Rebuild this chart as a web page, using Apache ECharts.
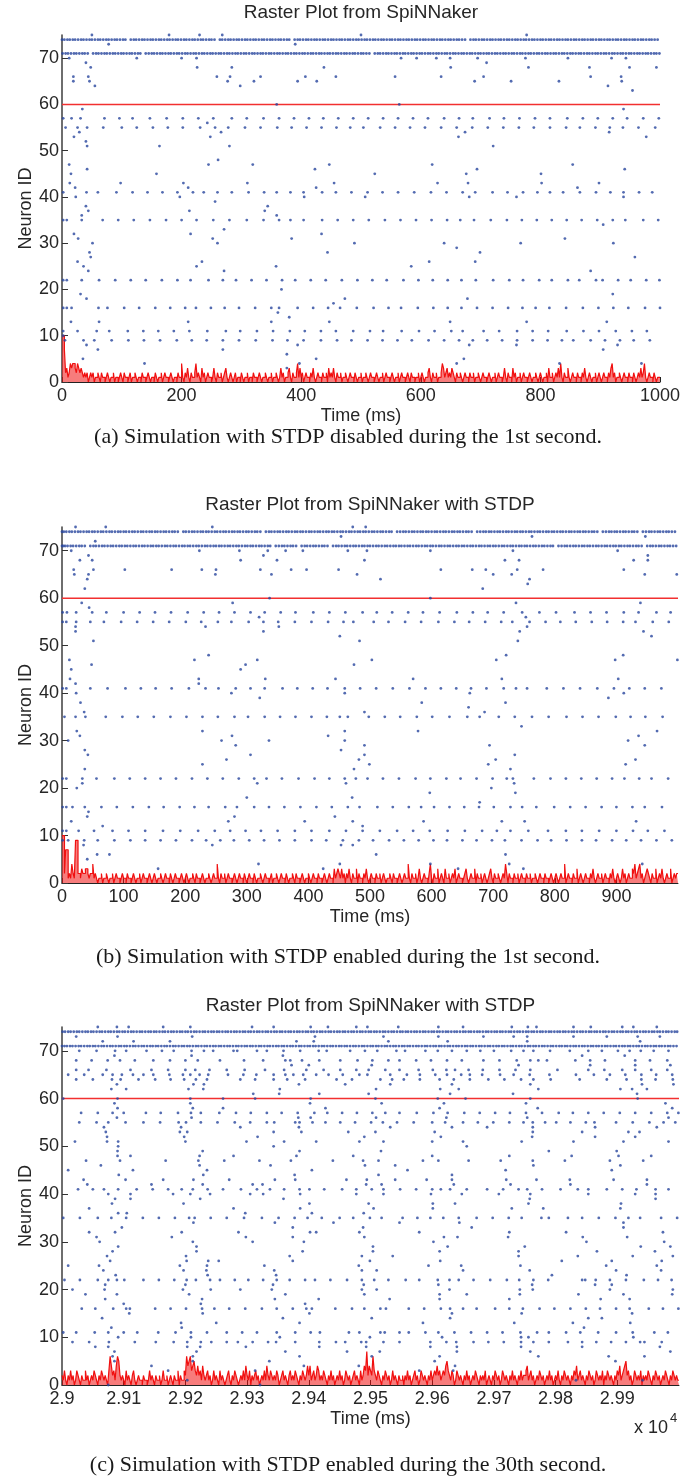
<!DOCTYPE html>
<html><head><meta charset="utf-8">
<script src="https://cdn.jsdelivr.net/npm/echarts@6/dist/echarts.min.js"></script>
<style>html,body{margin:0;padding:0;background:#fff}#chart{width:697px;height:1476px}</style>
</head><body><div id="chart"></div>
<script>
// ---------------- DATA ----------------
const titles = ['Raster Plot from SpiNNaker', 'Raster Plot from SpiNNaker with STDP', 'Raster Plot from SpiNNaker with STDP'];
const captions = ['(a) Simulation with STDP disabled during the 1st second.', '(b) Simulation with STDP enabled during the 1st second.', '(c) Simulation with STDP enabled during the 30th second.'];
const xName = 'Time (ms)';
const yName = 'Neuron ID';
const yTicks = [0, 10, 20, 30, 40, 50, 60, 70];
const aXTicks = [0, 200, 400, 600, 800, 1000];
const bXTicks = [0, 100, 200, 300, 400, 500, 600, 700, 800, 900];
const cXTicks = [29000, 29100, 29200, 29300, 29400, 29500, 29600, 29700, 29800, 29900];
const threshold = 60;
const histBin = 2; // ms per bin of the population count
const cStart = 29000; // panel (c) times are listed relative to this

// dense spike trains (neurons 74 and 71)
const a74 = [0,4,9,13,18,22,27,32,36,41,46,50,55,60,64,69,74,78,83,88,92,97,102,106,115,120,124,129,134,138,143,148,152,157,162,166,171,176,180,185,190,194,199,204,208,213,218,222,227,232,236,241,246,250,255,264,268,273,278,282,287,292,296,301,306,310,315,320,324,329,334,338,343,348,352,357,362,366,371,376,380,389,394,398,403,408,412,417,422,426,431,436,440,445,450,454,459,464,468,473,478,482,487,492,496,501,506,510,515,520,524,529,534,538,543,548,552,557,562,566,571,576,580,585,590,594,599,604,608,613,618,622,627,632,636,641,646,650,655,660,664,669,674,683,688,692,697,702,706,711,716,720,725,730,734,739,744,748,753,758,762,767,772,776,781,786,790,795,800,804,809,814,818,823,828,832,837,842,846,851,856,860,865,870,874,879,884,888,893,898,902,907,912,916,921,926,930,935,940,944,949,954,958,963,968,972,977,982,986,991,996];
const a71 = [1,6,10,15,20,24,29,34,38,43,52,57,61,66,71,75,80,85,89,94,99,103,108,113,117,122,127,131,140,145,150,154,159,164,168,173,178,182,187,192,196,201,206,210,215,220,224,229,234,238,243,248,252,257,262,266,271,276,280,285,290,294,299,304,308,313,318,322,327,332,336,341,346,350,355,360,364,369,374,378,383,388,392,397,402,406,411,416,420,425,430,434,439,444,448,453,458,462,467,472,476,481,486,490,495,500,504,509,514,523,528,532,537,542,546,551,556,560,565,570,574,579,584,588,593,598,602,607,612,616,621,626,630,635,640,644,649,654,658,663,668,672,677,682,686,691,696,700,705,710,714,719,724,728,733,738,742,747,752,756,761,766,770,775,780,784,789,794,798,803,808,812,817,822,826,831,836,840,845,850,854,859,864,868,873,878,882,887,892,896,901,906,910,915,920,924,929,934,938,943,948,952,957,962,966,971,976,980,985,990,994,999];
const b74 = [0,3,7,12,16,21,26,30,35,40,44,49,53,58,63,67,72,77,81,86,91,95,100,104,109,114,118,123,128,132,137,142,146,151,155,160,165,169,174,179,183,188,197,201,206,211,215,220,225,229,234,238,243,248,252,257,262,266,271,276,280,285,289,294,299,303,308,313,317,322,331,336,340,345,350,354,359,364,368,373,378,382,387,391,396,401,405,410,415,419,424,429,433,438,442,447,452,456,461,466,470,475,480,484,489,493,498,503,507,512,517,521,526,531,535,544,549,554,558,563,568,572,577,582,586,591,595,600,605,609,614,619,623,628,633,637,642,646,651,656,660,665,674,679,684,688,693,697,702,707,711,716,721,725,730,735,739,744,748,753,758,762,767,772,776,781,786,790,795,799,804,809,813,818,823,827,832,837,841,846,850,855,860,864,869,878,883,888,892,897,901,906,911,915,920,925,929,934,943,948,953,957,962,967,971,976,981,985,990,995];
const b71 = [0,2,5,9,14,18,23,28,32,37,46,51,55,60,65,69,74,79,83,88,93,97,102,106,111,116,120,125,130,134,139,144,148,153,157,162,167,171,176,181,185,190,195,199,204,208,213,218,222,227,232,236,241,246,250,255,259,264,269,273,278,283,287,292,297,301,306,310,315,320,324,329,334,338,347,352,357,361,366,371,375,380,389,394,398,403,408,412,417,422,426,431,440,445,449,454,459,463,468,473,477,482,487,491,496,500,505,510,514,519,524,528,533,538,542,547,551,556,561,565,570,575,579,584,589,593,598,602,607,612,616,621,626,630,635,640,644,649,653,658,663,667,672,677,681,686,691,695,700,704,709,714,718,723,728,732,737,742,746,751,755,760,765,769,774,779,783,788,793,797,806,811,816,820,825,830,834,839,844,848,853,857,862,867,871,876,881,885,890,895,899,904,908,913,918,922,927,932,936,941,950,955,959,964,969,973,978,983,987,992,997];
const c74 = [1,5,10,14,19,24,28,33,38,42,47,51,56,61,65,70,75,79,84,89,93,98,102,107,112,116,121,126,130,135,140,144,149,153,158,163,167,172,177,181,186,191,195,200,204,209,214,218,223,228,232,237,242,246,251,255,260,265,269,274,279,283,288,293,297,302,306,311,316,320,325,330,334,339,344,348,353,357,362,367,371,376,381,385,390,395,399,404,408,413,418,422,427,432,436,441,446,450,455,459,464,469,473,478,483,487,492,497,501,506,510,515,520,524,529,534,538,543,548,552,557,561,566,571,575,580,585,589,594,599,603,608,612,617,622,626,631,636,640,645,650,654,659,663,668,673,677,682,687,691,696,701,705,710,714,719,724,728,733,738,742,747,752,756,761,765,770,775,779,784,789,793,798,803,807,812,816,821,826,830,835,840,844,849,854,858,863,867,872,877,881,886,891,895,900,905,909,914,918,923,928,932,937,942,946,951,956,960,965,969,974,979,983,988,993,997];
const c71 = [0,4,8,13,17,22,27,31,36,41,45,50,54,59,64,68,73,78,82,87,92,96,101,105,110,115,119,124,129,133,138,143,147,152,156,161,166,170,175,180,184,189,194,198,203,207,212,217,221,226,231,235,240,245,249,254,258,263,268,272,277,282,286,291,296,300,305,309,314,319,323,328,333,337,342,347,351,356,360,365,370,374,379,384,388,393,398,402,407,411,416,421,425,430,435,439,444,449,453,458,462,467,472,476,481,486,490,495,500,504,509,513,518,523,527,532,537,541,546,551,555,560,564,569,574,578,583,588,592,597,602,606,611,615,620,625,629,634,639,643,648,653,657,662,666,671,676,680,685,690,694,699,704,708,713,717,722,727,731,736,741,745,750,755,759,764,768,773,778,782,787,792,796,801,806,810,815,819,824,829,833,838,843,847,852,857,861,866,870,875,880,884,889,894,898,903,908,912,917,921,926,931,935,940,945,949,954,959,963,968,972,977,982,986,991,996];

// panel (a): [neuron id, spike times (ms)]
const aRows = [
[75,[50,179,230,268,500,777]],[74,a74],[73,[78,390]],[71,a71],
[70,[12,125,200,225,567,593,626,649,695,775,846,919,943]],[69,[40,710]],
[68,[48,226,284,438,650,780,882,949,994]],
[66,[19,44,259,281,332,407,458,557,634,705,884,935]],
[65,[19,46,277,321,394,426,690,751,831,936]],[64,[55,298,913]],[63,[954]],
[60,[359,564]],[59,[34,939]],
[57,[2,16,31,71,96,118,147,175,202,228,253,284,309,337,363,388,413,437,462,487,512,537,562,587,612,639,664,687,715,739,765,791,816,845,871,896,921,945,972,998]],
[56,[243]],
[55,[6,26,42,69,100,125,152,177,202,231,256,278,306,332,360,384,409,434,459,482,504,532,557,582,607,634,660,686,712,738,764,789,816,843,866,892,916,938,964,992]],
[54,[29,266,674,915]],[53,[20,248,663,977]],[52,[40]],[51,[42,163,280,721]],[48,[261]],
[47,[12,245,319,447,619,854]],[46,[42,423,694,941]],[45,[15,158,523,676,801]],
[43,[13,98,203,310,455,628,679,802,898]],[42,[22,211,425,862]],
[41,[2,41,60,91,118,143,168,193,219,237,260,284,312,338,359,382,404,435,458,484,511,536,562,589,617,643,670,691,720,745,771,795,816,838,866,893,917,939,965,987]],
[40,[23,197,405,507,681,760,939]],[39,[256]],[38,[40,344]],[37,[44,213,339]],[36,[33,359]],
[35,[2,8,33,68,94,120,147,174,200,225,253,280,309,337,363,382,404,435,461,487,513,540,566,592,618,644,666,689,717,744,769,794,819,844,869,895,921,942,972,997]],
[34,[905]],[33,[271]],[32,[20,215,434]],[31,[27,252,384,841]],[30,[51,260,489,639,767,922]],
[29,[660]],[28,[46,444,699]],[27,[48,958]],[26,[26,234,614,691]],[25,[36,225,358,584]],[24,[44,271,884]],
[22,[2,8,33,62,89,115,140,167,193,215,245,269,291,317,342,368,390,416,441,468,494,519,543,571,596,620,645,668,692,721,748,771,798,819,846,865,893,904,930,951,977,999]],
[20,[367]],[19,[31,921]],[18,[41,473,678]],[17,[454]],
[16,[2,8,16,61,76,104,129,156,181,206,224,249,272,296,323,350,363,394,420,445,465,493,521,546,567,595,621,645,668,694,720,746,770,792,815,843,871,897,922,947,975,1000]],
[15,[361]],[14,[380]],[13,[15,62,211,350,447,649,777,911]],
[11,[2,26,58,79,110,136,161,187,213,243,274,298,326,353,381,406,433,458,487,515,537,568,597,623,651,670,705,731,761,787,813,844,872,898,926,953,978]],
[10,[2]],
[9,[5,36,54,83,111,137,164,192,217,242,269,296,324,352,377,404,433,460,484,511,536,561,585,613,639,664,687,711,736,761,787,812,836,855,884,908,933,956,983]],
[8,[41,394,681,760,929]],[7,[60,269,905]],[6,[376]],[5,[35,425,672]],[4,[138,397,660,832,969]],[3,[376]]
];

// panel (b)
const bRows = [
[75,[22,71,244,472,493]],[74,b74],[73,[453,763,947]],[72,[54]],[71,b71],
[70,[15,223,288,334,363,391,464,495,598,732,902]],[69,[43,327,951]],
[68,[29,49,290,349,491,719,742,928,951]],
[66,[19,51,102,178,227,250,322,372,397,449,615,666,688,739,781,912]],
[65,[20,43,249,340,479,700,730,946,998]],[64,[41,517,759]],[63,[756]],[62,[37,683]],
[60,[337,598]],[59,[32,277,737,939]],[58,[44]],
[57,[1,8,23,49,72,100,126,151,177,204,230,255,280,306,329,355,379,408,434,460,488,511,536,562,586,613,641,667,691,717,747,775,802,832,858,884,912,936,965,988]],
[56,[320,753]],
[55,[1,7,23,46,68,96,122,148,174,201,226,253,275,303,327,351,378,405,432,457,473,506,530,557,583,611,637,661,687,713,731,759,785,809,834,860,885,911,931,959,985]],
[54,[22,233,352,755]],[53,[22,327,743,944]],[52,[451,957]],[51,[51,483,740]],
[48,[238,721,911]],[47,[12,215,317,503,705,898,999]],[46,[48,298,474]],[45,[15,290]],
[43,[13,222,330,444,570,714,903]],[42,[22,222]],
[41,[1,7,46,74,103,128,152,178,206,233,254,282,306,329,358,382,407,431,459,484,510,537,564,590,615,640,664,689,717,737,755,787,814,841,869,896,921,946,973]],
[40,[23,275,459,662,912]],[39,[321,887]],[38,[30,584,720]],[37,[660]],[36,[36,491,686]],
[35,[4,22,38,71,98,123,149,176,202,228,253,280,302,329,354,379,405,430,451,464,498,524,549,576,601,629,658,678,709,735,763,790,819,845,871,899,923,947,975]],
[33,[746]],[32,[24,228,459,578,966]],[31,[29,276,432,936]],[30,[10,259,336,459,919]],
[29,[282,491,694,946]],[28,[37,453]],[27,[42,306,491,735]],[26,[267,482,704,931]],
[25,[228,499,692,915]],[24,[37,474,728]],
[22,[1,7,33,56,85,110,135,160,185,211,236,261,287,312,332,357,384,410,434,459,477,496,521,547,574,598,624,647,673,699,722,732,766,793,818,843,868,893,913,937,957,984]],
[21,[33,317,461,734]],[20,[24,697]],[19,[597,736]],[18,[300,471]],[17,[678]],
[16,[1,7,17,37,64,89,115,141,165,191,215,238,265,284,312,336,361,387,413,438,464,483,512,537,563,583,604,629,653,677,701,728,747,770,799,825,850,876,900,926,946,974]],
[15,[43]],[14,[41,280,443]],[13,[15,270,394,472,587,714,751,932]],[12,[66,488]],
[11,[1,7,27,52,82,108,135,164,192,221,248,273,298,323,350,378,405,434,461,488,516,544,570,597,626,654,682,706,728,757,789,818,844,872,900,927,951,978]],
[9,[1,10,36,58,85,111,135,160,185,211,234,257,279,304,328,353,378,405,429,456,482,505,531,555,579,603,625,650,673,698,719,746,772,794,819,844,867,893,916,940,965,990]],
[8,[35,244,453,472]],[6,[57,77,510,720]],[5,[41]],[4,[319,451,598,726,942]],[3,[156,424,643,749]]
];

// panel (c): times relative to cStart
const cRows = [
[75,[58,89,108,164,208,308,343,403,431,477,495,545,610,650,729,755,769,829,857,908,926,964]],
[74,c74],
[73,[23,90,211,410,521,610,683,732,754,829,883,933,969]],
[72,[66,116,175,380,408,529,625,754,937]],
[71,c71],
[70,[28,56,86,104,137,162,181,210,230,245,278,284,316,332,359,386,416,429,467,491,511,542,556,589,609,632,656,678,700,728,748,764,791,823,853,875,901,920,938,959,983]],
[69,[85,210,358,843,912]],
[68,[23,48,74,94,118,148,175,200,220,256,295,326,362,370,389,417,451,479,503,529,547,574,598,624,648,683,709,737,759,772,786,832,856,880,929,953,981]],
[67,[372,400,502,740,856,929,986]],
[66,[23,43,72,111,145,172,200,216,239,267,296,329,360,396,424,451,477,497,524,547,578,601,623,637,659,682,709,735,759,803,853,879,908,929,955,981]],
[65,[10,36,66,82,97,115,132,148,174,196,208,223,237,269,294,315,343,362,375,391,412,432,455,482,495,532,559,580,605,624,647,661,681,710,732,758,790,833,862,888,913,939,963,989]],
[64,[23,50,81,95,124,151,176,198,217,235,289,313,343,365,394,445,470,516,535,554,580,612,635,661,691,717,744,764,792,839,883,915,939,962,990]],
[63,[89,213,230,384,459,532,632,759,940,991]],
[62,[80,104,205,229,353,509,613,643,772,905,924,948]],
[61,[310,352,417,497,629,731,932]],
[60,[2,90,208,261,313,403,508,609,654,759,933]],
[59,[85,208,402,518,619,752,978]],
[58,[90,212,261,427,612,771,989]],
[57,[31,58,82,100,136,160,188,209,225,255,282,306,332,356,382,409,430,454,478,503,524,547,575,602,625,652,677,702,726,752,778,805,828,853,878,904,929,955,981,999]],
[56,[89,210,383,403,509,623,754,983]],
[55,[28,56,75,103,132,159,189,201,225,252,280,305,332,344,378,385,406,427,451,475,501,520,543,570,600,621,650,674,699,725,748,763,783,801,824,849,863,898,925,952,975,994]],
[54,[68,193,289,384,532,632,689,763,864,964]],
[53,[71,191,203,343,388,464,508,604,763,843,918,936]],
[52,[73,198,317,490,614,762,864,929]],
[51,[21,73,91,200,299,360,412,482,521,600,650,745,829,910,983]],
[50,[91,343,656]],
[49,[90,228,385,517,789,899]],
[48,[90,111,223,278,380,472,600,725,826,902,955]],
[47,[39,94,168,221,263,320,371,439,488,513,585,610,659,711,763,815,888,942]],
[46,[63,223,338,491,540,764,905]],
[45,[10,115,235,405,560,719,891]],
[44,[92,229,377,513,632]],
[43,[35,103,164,213,271,345,378,461,494,540,591,632,720,769,823,894,948]],
[42,[41,145,228,309,325,493,518,635,727,824,948]],
[41,[26,50,68,91,121,147,172,194,212,236,261,290,316,337,360,385,401,425,454,477,502,521,548,574,600,614,629,656,689,715,740,754,778,808,836,853,883,908,931,962,983]],
[40,[75,111,180,208,240,305,326,386,477,521,598,648,708,759,853,929,962]],
[39,[86,111,224,359,758,962]],
[38,[81,197,401,497,601,637,756,906]],
[37,[44,278,386,505,601,729,780,905]],
[36,[91,105,297,405,489]],
[35,[2,29,58,80,104,131,157,183,206,215,241,267,295,324,351,377,398,421,450,472,499,518,552,576,597,618,643,672,698,724,745,777,789,820,843,870,897,918,937,971,997]],
[34,[213,345,440,547,644,910]],
[33,[97,374,488,664,910]],
[32,[44,86,194,286,402,412,482,579,725,817,974]],
[31,[56,178,298,374,490,619,641,723,844,916]],
[30,[61,212,309,392,602,850,976]],
[29,[91,218,504,625,750,938,986]],
[28,[82,218,390,504,612,740,867,961]],
[27,[73,201,369,486,536,740,836,925,990]],
[26,[78,202,237,254,374,499,613,810,891,972]],
[25,[10,60,191,235,328,481,594,647,743,882,964]],
[24,[67,197,234,344,486,510,650,758,898,971]],
[23,[87,236,347,794,915]],
[22,[4,29,58,75,89,101,132,157,182,202,217,240,256,280,302,326,348,369,394,410,435,462,486,506,529,557,579,609,628,643,667,694,721,741,764,788,843,848,865,888,914,943,966,988]],
[21,[70,200,342,489,610,762,864,891]],
[20,[17,69,196,241,289,340,486,510,628,742,763,888,990]],
[19,[38,89,206,362,490,612,656,742,837,910,989]],
[18,[70,227,345,416,531,612,725,873,920]],
[17,[100,225,394]],
[16,[32,54,83,104,110,151,176,201,227,247,271,297,324,348,374,396,405,443,470,490,516,525,562,587,614,629,650,672,702,725,747,774,798,824,849,872,898,920,951,974,999]],
[15,[109,228,401,632,745,924]],
[14,[65,358,502,629,853,875]],
[13,[193,250,385,585,733,828,921]],
[12,[80,194,846]],
[11,[2,23,53,75,100,122,156,184,209,235,267,292,316,348,378,403,418,465,482,516,523,547,562,589,610,636,663,689,714,743,770,789,817,840,869,898,925,960,982]],
[10,[91,209,353,499,616,744,756,926]],
[9,[17,44,76,118,152,181,203,225,242,267,285,309,334,347,378,417,444,459,485,493,521,547,597,623,639,667,691,716,744,764,789,820,843,866,890,914,937,944,972]],
[8,[54,75,203,224,298,417,493,597,640,744,843,969]],
[7,[85,218,362,462,515,640,759,986]],
[6,[82,212,385,502,612,772,886,944]],
[5,[85,212,336,604,897]],
[4,[145,392,481,637]],
[3,[172,313,579,634]],
[1,[203,833,941]],
[0,[75,321]]
];

// population spike counts per 2 ms bin (red trace)
const aHist = [
10,10,7,2,3,1,2,4,3,4,4,3,2,4,3,2,3,2,1,2,1,2,0,1,2,
1,2,0,1,1,2,1,0,2,1,1,0,1,2,1,0,1,1,2,0,1,1,0,1,2,
1,0,2,1,1,0,1,2,0,1,1,2,1,0,1,1,0,2,1,1,0,1,2,1,0,
1,1,0,2,1,0,1,1,2,0,1,2,1,1,0,1,2,1,0,1,1,0,2,1,1,
4,1,0,2,1,3,1,0,2,1,1,2,4,1,2,1,0,3,1,2,0,1,2,1,1,
0,1,3,1,0,2,1,1,2,0,1,2,3,1,0,1,2,1,0,1,2,0,1,1,0,
2,1,0,1,1,2,0,1,1,0,2,1,1,0,1,2,1,0,1,1,2,1,0,1,1,
2,0,1,1,2,1,0,1,3,1,2,0,1,1,2,3,1,0,2,1,1,2,4,1,3,
1,2,0,1,2,1,1,0,2,1,3,1,0,1,2,1,1,0,2,1,1,2,0,3,1,
2,1,3,1,0,2,1,1,2,0,1,1,2,1,0,1,2,1,1,0,2,1,0,1,1,
2,0,1,1,2,1,0,1,2,1,1,0,1,2,1,0,1,1,2,0,1,2,1,1,0,
1,2,1,0,1,1,2,0,1,2,1,1,0,1,2,1,0,2,1,1,0,1,1,2,0,
1,2,1,0,1,1,2,3,1,0,2,1,1,2,0,1,1,2,4,3,1,2,3,1,2,
1,3,2,1,0,2,1,1,2,1,0,1,2,1,1,0,2,1,1,2,0,1,1,2,1,
0,1,2,1,1,0,1,2,1,0,1,1,2,0,1,2,1,1,0,1,3,1,0,2,1,
1,0,3,1,2,0,1,1,2,0,1,2,1,1,0,1,2,1,0,1,1,2,1,0,1,
2,1,0,1,1,2,0,3,1,1,2,0,1,2,1,3,1,4,1,0,2,1,1,3,1,
0,1,2,1,1,0,2,1,1,0,2,1,3,1,0,1,2,1,0,1,1,2,0,1,2,
1,0,1,2,1,1,0,2,1,3,4,1,2,0,1,1,2,1,0,1,2,1,1,0,2,
1,1,0,2,1,0,1,2,1,3,1,2,4,1,0,1,2,1,1,0,2,1,0,1,1];
const bHist = [
10,10,2,7,7,1,2,1,4,2,1,9,9,2,2,1,3,2,2,3,3,2,1,2,2,
4,1,2,1,0,1,1,2,0,1,1,2,1,0,1,1,2,0,1,2,1,1,0,1,2,
1,1,0,2,1,1,0,1,2,1,0,1,1,2,0,1,2,1,1,0,1,2,1,0,1,
2,1,0,1,1,2,1,0,1,2,1,1,0,2,1,0,1,2,1,1,0,1,2,1,0,
1,2,1,0,1,1,2,1,0,2,1,1,0,1,2,1,0,1,1,2,1,0,1,2,1,
1,4,1,0,2,1,1,2,0,1,2,1,1,0,1,2,1,0,1,2,1,1,0,2,1,
0,1,2,1,1,0,2,1,0,1,1,2,1,0,1,2,1,1,0,1,2,0,1,1,2,
1,0,1,2,1,1,0,2,1,0,1,1,2,1,0,2,1,1,0,1,2,1,0,1,1,
2,1,0,1,2,1,1,0,2,1,1,0,1,2,1,0,1,2,1,1,0,3,1,2,3,
2,1,3,1,2,0,2,1,3,1,0,2,1,1,3,0,2,1,1,0,2,1,3,1,0,
1,2,1,1,0,2,1,1,2,0,1,2,1,0,1,1,2,1,0,2,1,1,0,1,2,
1,0,1,2,1,1,4,1,0,2,1,1,2,0,1,3,1,0,1,2,1,1,0,2,4,
1,0,2,1,1,3,0,1,2,1,0,3,1,1,2,0,1,2,1,3,0,1,2,1,1,
0,1,2,3,1,0,1,2,1,1,3,0,2,1,1,2,0,1,2,1,0,1,2,3,1,
0,2,1,1,2,1,0,1,2,1,4,2,0,2,1,1,0,2,1,1,2,0,1,2,1,
1,0,2,1,1,2,0,1,1,2,1,0,1,2,1,1,0,2,1,1,0,1,2,1,0,
1,2,1,0,1,2,1,1,4,0,1,2,1,1,0,2,1,1,3,0,1,2,1,0,1,
2,1,1,0,2,1,3,1,0,1,2,1,1,2,0,1,2,1,1,0,2,1,3,1,0,
1,2,1,0,1,3,1,2,0,1,2,1,1,3,2,4,1,2,3,4,1,2,0,1,2,
3,2,1,0,2,1,1,3,0,1,2,1,3,1,0,1,2,1,1,3,0,1,2,1,2];
const cHist = [
2,1,3,1,0,2,1,3,1,2,0,1,3,2,1,0,2,1,1,3,1,2,0,1,2,
1,3,2,1,0,2,1,3,2,1,2,1,0,3,6,4,2,3,1,4,6,5,2,1,2,
1,0,3,1,2,1,0,2,3,1,0,1,2,1,1,0,2,1,1,0,1,3,1,2,1,
0,2,1,1,2,0,1,3,1,1,2,0,1,2,1,0,2,1,1,3,0,2,1,1,3,
2,6,4,5,6,3,4,5,3,2,4,2,3,1,4,2,1,2,3,1,2,0,1,3,1,
2,1,0,3,1,2,1,0,1,2,3,1,0,2,1,3,2,1,0,1,2,1,3,1,4,
2,1,3,0,2,1,2,3,1,2,0,1,2,1,3,1,4,2,1,3,2,1,2,1,3,
2,0,1,2,3,1,2,1,0,2,3,1,2,1,3,2,1,0,2,1,3,2,1,2,4,
2,4,1,2,3,1,2,4,3,1,2,1,3,2,1,0,2,1,3,1,2,0,1,2,1,
3,1,2,0,1,3,2,1,2,0,1,2,3,1,2,1,0,3,1,2,4,3,7,2,4,
3,2,6,3,2,1,3,2,1,0,2,1,3,2,1,2,0,1,3,1,2,1,0,2,1,
1,2,0,2,1,3,1,2,0,1,2,3,1,2,0,1,3,2,1,2,1,0,2,1,3,
1,2,3,2,4,2,3,1,2,3,2,4,5,3,2,1,3,2,0,1,3,2,1,2,1,
0,2,1,3,1,2,0,1,2,1,3,2,1,0,2,1,2,1,3,0,1,2,1,0,2,
1,3,2,1,2,0,1,3,2,1,2,1,0,2,1,3,1,2,1,0,2,1,3,1,2,
2,3,4,1,2,3,1,2,0,1,2,1,3,2,1,2,0,1,2,1,3,1,2,0,1,
2,1,3,1,0,2,1,3,2,1,2,1,0,2,1,3,2,4,1,2,3,1,2,1,0,
2,1,3,2,1,2,0,1,3,2,1,2,1,3,0,2,1,3,2,1,2,1,0,2,1,
3,2,4,1,2,3,4,5,2,3,1,2,0,1,3,2,1,2,1,3,0,2,1,2,1,
3,2,1,0,2,1,3,2,1,2,0,1,2,1,3,2,1,0,2,1,3,2,1,2,1];

// ---------------- BUILD ----------------
function spikes(rows, offset) {
  const out = [];
  rows.forEach(([id, ts]) => ts.forEach(t => out.push([offset + t, id])));
  return out;
}
function hist(h, offset) {
  const out = h.map((v, i) => [offset + i * histBin, v]);
  out.push([offset + h.length * histBin, h[h.length - 1]]);
  return out;
}

const FONT = 'Liberation Sans, Arial, Helvetica, sans-serif';
const TXT = '#262626';
const panels = [
  { rows: aRows, h: aHist, off: 0, min: 0, max: 1000, ticks: aXTicks, grid: {left: 62, top: 35, width: 598, height: 347}, fmt: v => String(v) },
  { rows: bRows, h: bHist, off: 0, min: 0, max: 1000, ticks: bXTicks, grid: {left: 62, top: 527, width: 616, height: 356}, fmt: v => String(v) },
  { rows: cRows, h: cHist, off: cStart, min: 29000, max: 30000, ticks: cXTicks, grid: {left: 62, top: 1027, width: 617, height: 358}, fmt: v => String(+(v / 1e4).toFixed(2)) }
];

const option = {
  animation: false,
  backgroundColor: '#ffffff',
  title: [],
  grid: [], xAxis: [], yAxis: [], series: []
};

const titleTops = [3, 495, 996];
const capTops = [426, 946, 1454];
panels.forEach((p, i) => {
  option.grid.push(p.grid);
  option.title.push({ text: titles[i], left: p.grid.left + p.grid.width / 2, top: titleTops[i], textAlign: 'center', padding: 0,
    textStyle: { fontSize: 19, fontWeight: 'normal', fontFamily: FONT, color: TXT } });
  option.title.push({ text: captions[i], left: 348, top: capTops[i], textAlign: 'center', padding: 0,
    textStyle: { fontSize: 22, fontWeight: 'normal', fontFamily: 'Liberation Serif, Times New Roman, serif', color: '#1a1a1a' } });
  option.xAxis.push({
    type: 'value', gridIndex: i, min: p.min, max: p.max,
    name: xName, nameLocation: 'middle', nameGap: 25, nameMoveOverlap: false,
    nameTextStyle: { fontSize: 18, fontFamily: FONT, color: TXT },
    axisLine: { show: true, onZero: false, lineStyle: { color: '#222', width: 1 } },
    axisTick: { show: true, inside: true, length: 5, customValues: p.ticks, lineStyle: { color: '#222' } },
    axisLabel: { customValues: p.ticks, fontSize: 18, fontFamily: FONT, color: TXT, margin: 5, formatter: p.fmt },
    splitLine: { show: false }
  });
  option.yAxis.push({
    type: 'value', gridIndex: i, min: 0, max: 75,
    name: yName, nameLocation: 'middle', nameGap: 27, nameMoveOverlap: false,
    nameTextStyle: { fontSize: 18, fontFamily: FONT, color: TXT },
    axisLine: { show: true, lineStyle: { color: '#4a4a4a', width: 1.6 } },
    axisTick: { show: true, inside: true, length: 6, customValues: yTicks, lineStyle: { color: '#333' } },
    axisLabel: { customValues: yTicks, fontSize: 18, fontFamily: FONT, color: TXT, margin: 3 },
    splitLine: { show: false }
  });
  option.series.push({
    type: 'line', xAxisIndex: i, yAxisIndex: i, step: 'end', showSymbol: false, symbol: 'none',
    data: hist(p.h, p.off), lineStyle: { color: '#f01010', width: 1.2 },
    areaStyle: { color: '#f01010', opacity: 0.55, origin: 'start' }, z: 3, silent: true
  });
  option.series.push({
    type: 'line', xAxisIndex: i, yAxisIndex: i, showSymbol: false, symbol: 'none',
    data: [[p.min, threshold], [p.max, threshold]], lineStyle: { color: '#f23030', width: 1.5 }, z: 3, silent: true
  });
  option.series.push({
    type: 'scatter', xAxisIndex: i, yAxisIndex: i, symbol: 'circle', symbolSize: 2.8,
    data: spikes(p.rows, p.off), itemStyle: { color: '#28469e' }, z: 4, silent: true
  });
});
option.title.push({ text: 'x 10', right: 29, top: 1419, padding: 0, textStyle: { fontSize: 18, fontWeight: 'normal', fontFamily: FONT, color: TXT } });
option.title.push({ text: '4', left: 670, top: 1412, padding: 0, textStyle: { fontSize: 13, fontWeight: 'normal', fontFamily: FONT, color: TXT } });

const chart = echarts.init(document.getElementById('chart'), null, { renderer: 'canvas' });
chart.setOption(option);
</script></body></html>
